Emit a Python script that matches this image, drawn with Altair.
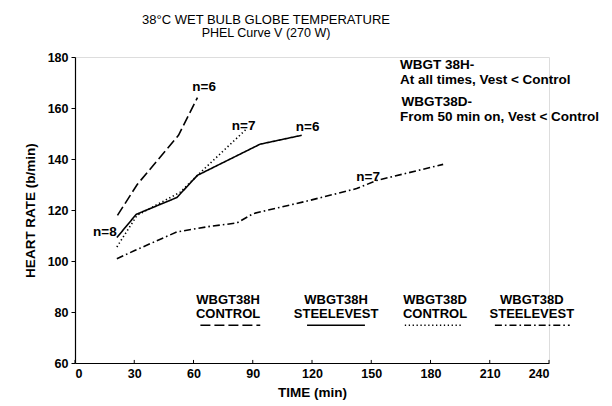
import altair as alt
import pandas as pd

FONT = "Liberation Sans"

# ---- data ----
series_names = ["WBGT38H CONTROL", "WBGT38H STEELEVEST", "WBGT38D CONTROL", "WBGT38D STEELEVEST"]

h_ctrl_t = [21.5, 31.5, 52.4, 62.0]
h_ctrl_hr = [117.9, 130.0, 149.3, 164.1]

h_vest_t = [21.2, 31.0, 51.6, 62.0, 93.7, 114.8]
h_vest_hr = [109.2, 118.3, 124.9, 133.6, 145.8, 149.3]

d_ctrl_t = [21.2, 31.4, 53.3, 62.0, 87.0]
d_ctrl_hr = [105.5, 117.9, 127.0, 133.6, 151.9]

d_vest_t = [21.2, 30.5, 51.6, 68.4, 81.9, 90.3, 119.0, 142.6, 152.8, 186.4]
d_vest_hr = [100.9, 104.2, 111.4, 113.6, 114.9, 118.6, 123.8, 128.4, 131.6, 137.9]

# n labels
n_text = ["n=8", "n=6", "n=7", "n=6", "n=7"]
n_t = [15.1, 65.4, 85.4, 117.8, 148.4]
n_hr = [111.2, 168.1, 153.0, 152.6, 132.8]

# annotation block
note_text = ["WBGT 38H-", "At all times, Vest < Control", "WBGT38D-", "From 50 min on, Vest < Control"]
note_t = [164.5, 164.5, 165.3, 164.5]
note_hr = [176.7, 170.9, 162.2, 156.4]

# in-plot legend
leg_t = [77.5, 132.2, 182.3, 231.3]
leg_line1 = ["WBGT38H", "WBGT38H", "WBGT38D", "WBGT38D"]
leg_line2 = ["CONTROL", "STEELEVEST", "CONTROL", "STEELEVEST"]
leg_x1 = [63.5, 117.5, 167.0, 212.6]
leg_x2 = [93.8, 146.8, 196.4, 250.5]
leg_text_hr = 84.9
leg_seg_hr = 74.8

x_ticks = [0, 30, 60, 90, 120, 150, 180, 210, 240]
y_ticks = [60, 80, 100, 120, 140, 160, 180]

# ---- tables ----
rows = []
for name, ts, hs in zip(series_names,
                        [h_ctrl_t, h_vest_t, d_ctrl_t, d_vest_t],
                        [h_ctrl_hr, h_vest_hr, d_ctrl_hr, d_vest_hr]):
    for t, h in zip(ts, hs):
        rows.append({"t": t, "hr": h, "series": name})
lines_df = pd.DataFrame(rows)

n_df = pd.DataFrame({"t": n_t, "hr": n_hr, "label": n_text})
note_df = pd.DataFrame({"t": note_t, "hr": note_hr, "label": note_text})
leg_text_df = pd.DataFrame({
    "t": leg_t,
    "hr": [leg_text_hr] * 4,
    "label": [a + "\n" + b for a, b in zip(leg_line1, leg_line2)],
})
leg_seg_df = pd.DataFrame({"t": leg_x1, "t2": leg_x2, "hr": [leg_seg_hr] * 4, "series": series_names})
tick_df = pd.DataFrame({"t": x_ticks, "y0": [60] * len(x_ticks), "y1": [61.2] * len(x_ticks)})

x_scale = alt.Scale(domain=[0, 240], nice=False, zero=False)
y_scale = alt.Scale(domain=[60, 180], nice=False, zero=False)
dash_scale = alt.Scale(domain=series_names,
                       range=[[10, 4], [1, 0], [1.3, 2.6], [7, 3, 1.6, 3]])

x_axis = alt.Axis(values=x_ticks, title="TIME (min)", ticks=False, tickSize=0,
                  labelPadding=4, grid=False, domainColor="black", domainWidth=1.2,
                  labelFont=FONT, labelFontSize=12.5, labelFontWeight="bold", labelColor="black",
                  titleFont=FONT, titleFontSize=13.5, titleFontWeight="bold", titleColor="black",
                  titleX=237, titleY=33, titleBaseline="alphabetic", titleAlign="center")
y_axis = alt.Axis(values=y_ticks, title="HEART RATE (b/min)", tickSize=4, tickColor="black",
                  labelPadding=3, grid=False, domainColor="black", domainWidth=1.2,
                  labelFont=FONT, labelFontSize=12.5, labelFontWeight="bold", labelColor="black",
                  titleFont=FONT, titleFontSize=13.5, titleFontWeight="bold", titleColor="black",
                  titleX=-45, titleY=153, titleAngle=270, titleBaseline="middle", titleAlign="center")

base = alt.Chart(lines_df)

lines = base.mark_line(color="black", strokeWidth=1.6).encode(
    x=alt.X("t:Q", scale=x_scale, axis=x_axis),
    y=alt.Y("hr:Q", scale=y_scale, axis=y_axis),
    detail="series:N",
    strokeDash=alt.StrokeDash("series:N", scale=dash_scale, legend=None),
)

xticks = alt.Chart(tick_df).mark_rule(color="black", strokeWidth=1).encode(
    x="t:Q", y="y0:Q", y2="y1:Q"
)

n_labels = alt.Chart(n_df).mark_text(font=FONT, fontSize=13.5, fontWeight="bold",
                                     color="black", align="center", baseline="middle").encode(
    x="t:Q", y="hr:Q", text="label:N"
)

notes = alt.Chart(note_df).mark_text(font=FONT, fontSize=13.5, fontWeight="bold",
                                     color="black", align="left", baseline="middle").encode(
    x="t:Q", y="hr:Q", text="label:N"
)

leg_text = alt.Chart(leg_text_df).mark_text(font=FONT, fontSize=13, fontWeight="bold",
                                            color="black", align="center", baseline="middle",
                                            lineBreak="\n", lineHeight=14).encode(
    x="t:Q", y="hr:Q", text="label:N"
)

leg_segs = alt.Chart(leg_seg_df).mark_rule(color="black", strokeWidth=1.6).encode(
    x="t:Q", x2="t2:Q", y="hr:Q",
    strokeDash=alt.StrokeDash("series:N", scale=dash_scale, legend=None),
)

chart = alt.layer(lines, xticks, n_labels, notes, leg_text, leg_segs).properties(
    width=474,
    height=306,
    title=alt.TitleParams(
        text="38°C WET BULB GLOBE TEMPERATURE",
        subtitle="PHEL Curve V (270 W)",
        font=FONT, fontSize=13, fontWeight="normal", color="black",
        subtitleFont=FONT, subtitleFontSize=12.5, subtitleColor="black",
        subtitlePadding=0, anchor="middle", dx=-46, offset=12,
    ),
    autosize=alt.AutoSizeParams(type="none"),
    padding={"left": 67, "top": 49, "right": 55, "bottom": 37},
).configure_view(stroke=None).configure(background="white")

chart.save("out.html", embed_options={"renderer": "svg", "actions": False})
